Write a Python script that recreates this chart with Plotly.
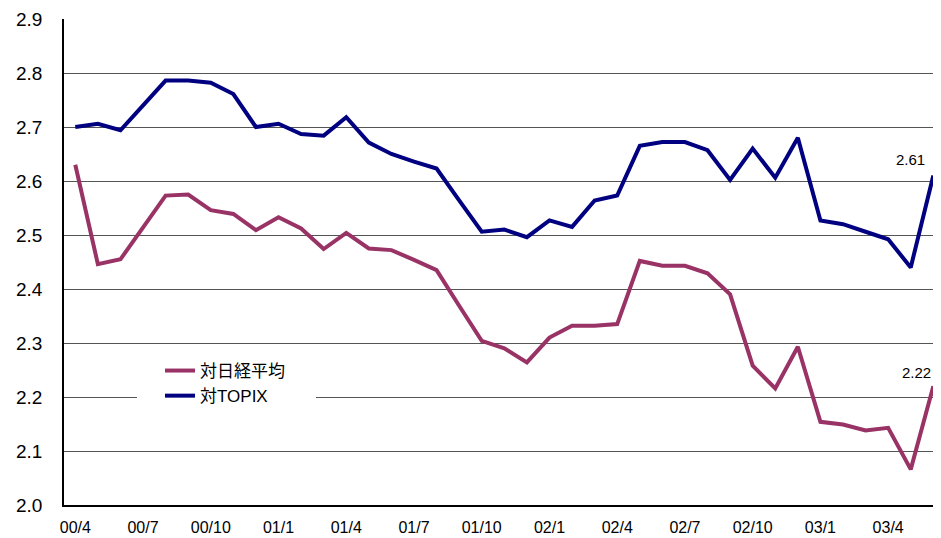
import plotly.graph_objects as go

months = ["00/4","00/5","00/6","00/7","00/8","00/9","00/10","00/11","00/12",
          "01/1","01/2","01/3","01/4","01/5","01/6","01/7","01/8","01/9",
          "01/10","01/11","01/12","02/1","02/2","02/3","02/4","02/5","02/6",
          "02/7","02/8","02/9","02/10","02/11","02/12","03/1","03/2","03/3",
          "03/4","03/5","03/6"]

nikkei = [2.630, 2.446, 2.455, 2.515, 2.573, 2.575, 2.546, 2.539, 2.509,
          2.533, 2.512, 2.474, 2.504, 2.475, 2.472, 2.454, 2.435, 2.369,
          2.304, 2.290, 2.264, 2.310, 2.332, 2.332, 2.335, 2.452, 2.443,
          2.443, 2.429, 2.390, 2.258, 2.216, 2.293, 2.154, 2.149, 2.138,
          2.143, 2.066, 2.220]

topix = [2.700, 2.706, 2.694, 2.740, 2.786, 2.786, 2.782, 2.761, 2.700,
         2.706, 2.687, 2.684, 2.718, 2.671, 2.650, 2.636, 2.623, 2.564,
         2.506, 2.510, 2.496, 2.527, 2.515, 2.564, 2.573, 2.665, 2.672,
         2.672, 2.657, 2.602, 2.660, 2.606, 2.680, 2.527, 2.520, 2.506,
         2.492, 2.440, 2.610]

tick_labels = ["00/4","00/7","00/10","01/1","01/4","01/7","01/10",
               "02/1","02/4","02/7","02/10","03/1","03/4"]
y_ticks = [2.0, 2.1, 2.2, 2.3, 2.4, 2.5, 2.6, 2.7, 2.8, 2.9]

FONT = "Liberation Sans, Arial, Noto Sans CJK JP, sans-serif"
x_idx = list(range(len(months)))

# page body has an 8px margin; figure is sized/offset to compensate
PW, PH = 877, 486  # plot area in px

fig = go.Figure()
fig.add_trace(go.Scatter(x=x_idx, y=nikkei, mode="lines", name="対日経平均",
                         line=dict(color="#993366", width=4)))
fig.add_trace(go.Scatter(x=x_idx, y=topix, mode="lines", name="対TOPIX",
                         line=dict(color="#000080", width=4)))

fig.add_annotation(x=x_idx[-1], y=topix[-1], text=f"{topix[-1]:.2f}",
                   showarrow=False, xanchor="center", yanchor="middle",
                   xshift=-23, yshift=16, font=dict(size=15, color="black", family=FONT))
fig.add_annotation(x=x_idx[-1], y=nikkei[-1], text=f"{nikkei[-1]:.2f}",
                   showarrow=False, xanchor="center", yanchor="middle",
                   xshift=-17, yshift=14, font=dict(size=15, color="black", family=FONT))

# white legend background box
fig.add_shape(type="rect", xref="paper", yref="paper",
              x0=(137-64)/PW, x1=(316-64)/PW, y0=(505-410)/PH, y1=(505-350)/PH,
              fillcolor="white", line=dict(width=0), layer="above")

tick_pos = [months.index(t) for t in tick_labels]

fig.update_layout(
    width=933, height=530,
    margin=dict(l=56, r=0, t=11, b=33),
    plot_bgcolor="white", paper_bgcolor="white",
    font=dict(family=FONT, color="black"),
    showlegend=True,
    legend=dict(x=(160-64)/PW, y=(505-353)/PH, xanchor="left", yanchor="top",
                bgcolor="rgba(0,0,0,0)", borderwidth=0,
                font=dict(size=17, family=FONT, color="black"),
                tracegroupgap=0, itemwidth=30),
    xaxis=dict(range=[-0.5, 38.34], tickmode="array", tickvals=tick_pos,
               ticktext=tick_labels, showgrid=False, zeroline=False,
               showline=True, linecolor="black", linewidth=1.5, ticks="",
               tickfont=dict(size=16, family=FONT, color="black"),
               ticklabelstandoff=7),
    yaxis=dict(range=[2.0, 2.9], tickmode="array", tickvals=y_ticks,
               ticktext=[f"{v:.1f}" for v in y_ticks],
               showgrid=True, gridcolor="#555555", gridwidth=1, zeroline=False,
               showline=True, linecolor="black", linewidth=1.5, ticks="",
               tickfont=dict(size=19, family=FONT, color="black"),
               ticklabelstandoff=16),
)

fig.write_html("out.html")
